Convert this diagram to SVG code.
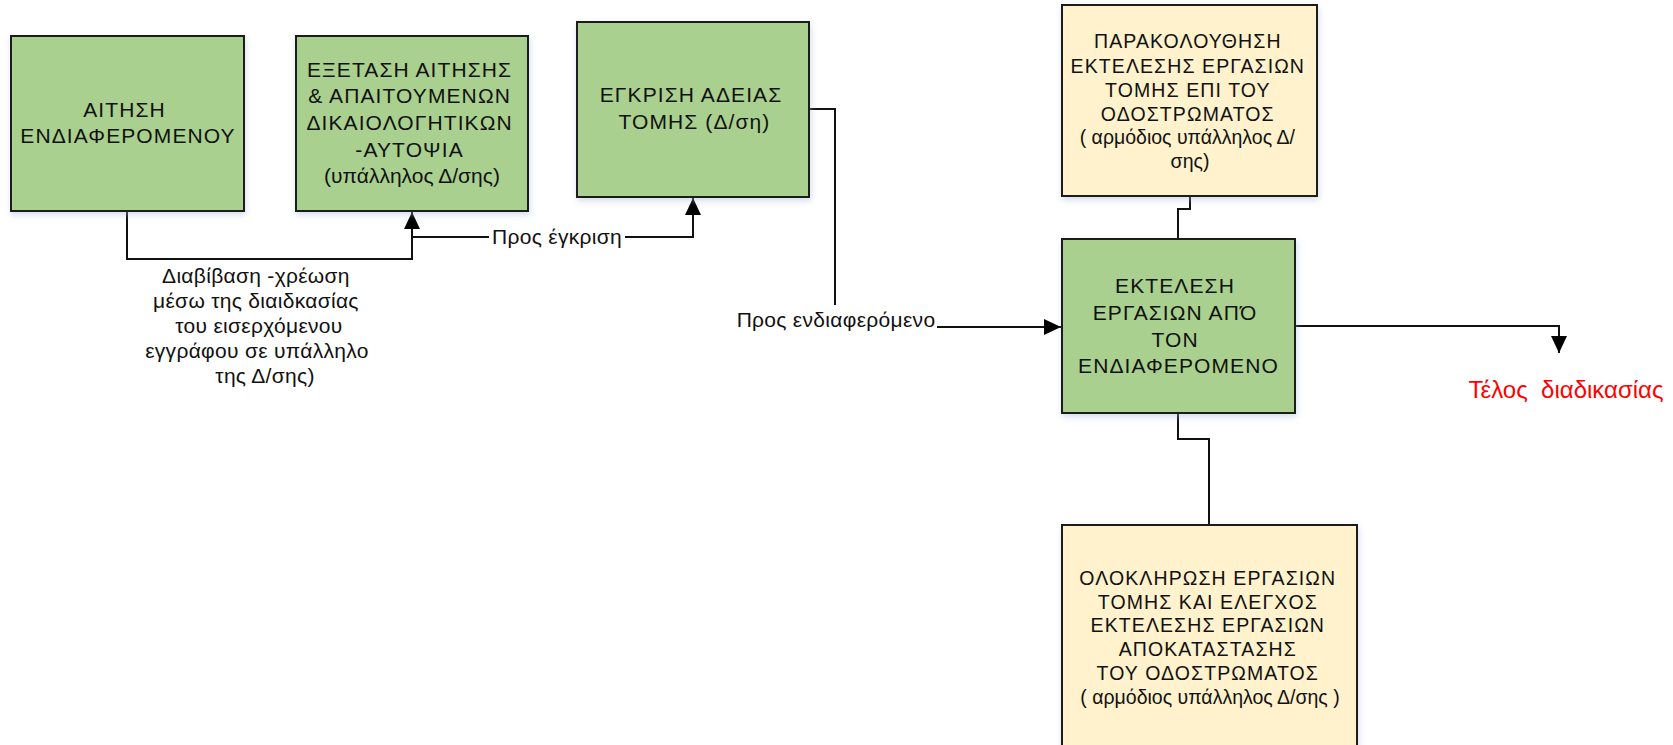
<svg xmlns="http://www.w3.org/2000/svg" width="1673" height="745" viewBox="0 0 1673 745">
  <style>
    .box { stroke: #1a1a1a; stroke-width: 2; filter: url(#soft); }
    .green { fill: #a9d08e; }
    .cream { fill: #fff2cc; }
    .lbl { font-family: "Liberation Sans", Arial, sans-serif; fill: #111; text-anchor: middle; }
    .big { font-size: 21px; }
    .mid { font-size: 19.5px; }
    .caps { letter-spacing: 1.1px; }
    .flow { letter-spacing: 0.3px; }
    .wire { fill: none; stroke: #111; stroke-width: 2; }
    .arrow { marker-end: url(#head); }
    .end { font-family: "Liberation Sans", Arial, sans-serif; font-size: 24px; fill: #ff0000; text-anchor: middle; }
  </style>
  <defs>
    <marker id="head" markerUnits="userSpaceOnUse" markerWidth="18" markerHeight="18" refX="17" refY="8" orient="auto">
      <path d="M0,0 L17,8 L0,16 Z" fill="#000"/>
    </marker>
    <filter id="soft" x="-10%" y="-10%" width="125%" height="130%">
      <feDropShadow dx="1" dy="3" stdDeviation="3" flood-color="#9fb4d8" flood-opacity="0.45"/>
    </filter>
  </defs>

  <rect width="1673" height="745" fill="#fff"/>

  <!-- connectors -->
  <g id="connectors">
    <polyline class="wire arrow" points="127,211 127,259 412,259 412,212"/>
    <polyline class="wire" points="412,237 489,237"/>
    <polyline class="wire arrow" points="625,237 693,237 693,198"/>
    <polyline class="wire" points="809,109 835,109 835,305"/>
    <polyline class="wire arrow" points="937,327 1061,327"/>
    <polyline class="wire" points="1190,196 1190,209 1178,209 1178,239"/>
    <polyline class="wire arrow" points="1295,326 1559,326 1559,353"/>
    <polyline class="wire" points="1178,413 1178,439 1209,439 1209,525"/>
    <text class="lbl big flow" x="557" y="244">Προς έγκριση</text>
    <text class="lbl big flow" x="836" y="327">Προς ενδιαφερόμενο</text>
    <text class="lbl big flow">
      <tspan x="259" y="283">Διαβίβαση -χρέωση</tspan>
      <tspan x="259" y="308">μέσω της διαιδκασίας</tspan>
      <tspan x="262" y="333">του εισερχόμενου</tspan>
      <tspan x="260" y="358">εγγράφου σε υπάλληλο</tspan>
      <tspan x="265" y="383">της Δ/σης)</tspan>
    </text>
  </g>

  <g id="aitisi">
    <rect class="box green" x="11" y="36" width="233" height="175"/>
    <text class="lbl big caps">
      <tspan x="128" y="117">ΑΙΤΗΣΗ</tspan>
      <tspan x="128" y="143">ΕΝΔΙΑΦΕΡΟΜΕΝΟΥ</tspan>
    </text>
  </g>

  <g id="exetasi">
    <rect class="box green" x="296" y="36" width="232" height="175"/>
    <text class="lbl big">
      <tspan class="caps" x="412.5" y="77">ΕΞΕΤΑΣΗ ΑΙΤΗΣΗΣ</tspan>
      <tspan class="caps" x="412.5" y="103">&amp; ΑΠΑΙΤΟΥΜΕΝΩΝ</tspan>
      <tspan class="caps" x="412.5" y="130">ΔΙΚΑΙΟΛΟΓΗΤΙΚΩΝ</tspan>
      <tspan class="caps" x="412.5" y="157">-ΑΥΤΟΨΙΑ</tspan>
      <tspan x="412" y="183">(υπάλληλος Δ/σης)</tspan>
    </text>
  </g>

  <g id="egkrisi">
    <rect class="box green" x="577" y="22" width="232" height="175"/>
    <text class="lbl big caps">
      <tspan x="694.5" y="102">ΕΓΚΡΙΣΗ ΑΔΕΙΑΣ</tspan>
      <tspan x="694.5" y="129">ΤΟΜΗΣ (Δ/ση)</tspan>
    </text>
  </g>

  <g id="parakolouthisi">
    <rect class="box cream" x="1062" y="5" width="255" height="191"/>
    <text class="lbl mid">
      <tspan class="caps" x="1190.5" y="48">ΠΑΡΑΚΟΛΟΥΘΗΣΗ</tspan>
      <tspan class="caps" x="1190.5" y="73">ΕΚΤΕΛΕΣΗΣ ΕΡΓΑΣΙΩΝ</tspan>
      <tspan class="caps" x="1190.5" y="97">ΤΟΜΗΣ ΕΠΙ ΤΟΥ</tspan>
      <tspan class="caps" x="1190.5" y="121">ΟΔΟΣΤΡΩΜΑΤΟΣ</tspan>
      <tspan x="1190" y="144">( αρμόδιος υπάλληλος Δ/</tspan>
      <tspan x="1190" y="168">σης)</tspan>
    </text>
  </g>

  <g id="ektelesi">
    <rect class="box green" x="1062" y="239" width="233" height="174"/>
    <text class="lbl big caps">
      <tspan x="1178.5" y="293">ΕΚΤΕΛΕΣΗ</tspan>
      <tspan x="1178.5" y="320">ΕΡΓΑΣΙΩΝ ΑΠΌ</tspan>
      <tspan x="1178.5" y="347">ΤΟΝ</tspan>
      <tspan x="1178.5" y="373">ΕΝΔΙΑΦΕΡΟΜΕΝΟ</tspan>
    </text>
  </g>

  <g id="oloklirosi">
    <rect class="box cream" x="1062" y="525" width="295" height="240"/>
    <text class="lbl mid">
      <tspan class="caps" x="1210.5" y="585">ΟΛΟΚΛΗΡΩΣΗ ΕΡΓΑΣΙΩΝ</tspan>
      <tspan class="caps" x="1210.5" y="609">ΤΟΜΗΣ ΚΑΙ ΕΛΕΓΧΟΣ</tspan>
      <tspan class="caps" x="1210.5" y="632">ΕΚΤΕΛΕΣΗΣ ΕΡΓΑΣΙΩΝ</tspan>
      <tspan class="caps" x="1210.5" y="656">ΑΠΟΚΑΤΑΣΤΑΣΗΣ</tspan>
      <tspan class="caps" x="1210.5" y="680">ΤΟΥ ΟΔΟΣΤΡΩΜΑΤΟΣ</tspan>
      <tspan x="1210" y="704">( αρμόδιος υπάλληλος Δ/σης )</tspan>
    </text>
  </g>

  <g id="telos">
    <text class="end" x="1566" y="398" xml:space="preserve">Τέλος  διαδικασίας</text>
  </g>
</svg>
